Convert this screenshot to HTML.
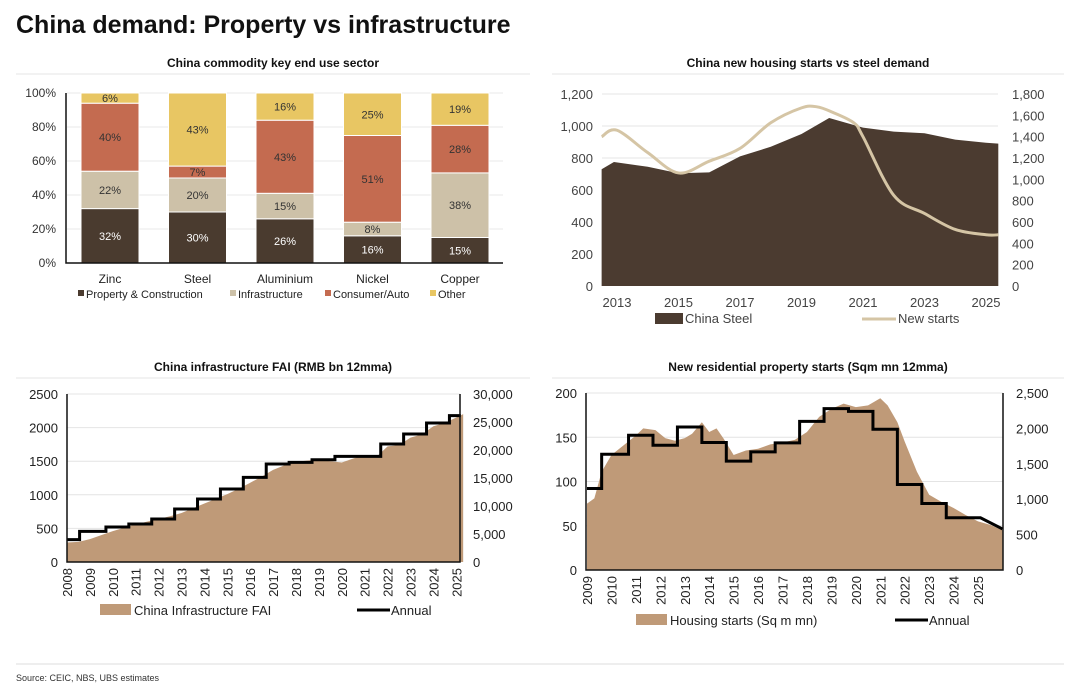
<!DOCTYPE html>
<html><head><meta charset="utf-8"><style>
body{margin:0;background:#fff;font-family:"Liberation Sans",sans-serif;}
svg text{font-family:"Liberation Sans",sans-serif;}
</style></head><body>
<svg id="s" width="1080" height="691" xmlns="http://www.w3.org/2000/svg">
<text x="16" y="33" font-size="25" font-weight="bold" fill="#111">China demand: Property vs infrastructure</text>
<text x="273" y="67" font-size="12" font-weight="bold" text-anchor="middle" fill="#111">China commodity key end use sector</text>
<text x="808" y="67" font-size="12" font-weight="bold" text-anchor="middle" fill="#111">China new housing starts vs steel demand</text>
<text x="273" y="371" font-size="12" font-weight="bold" text-anchor="middle" fill="#111">China infrastructure FAI (RMB bn 12mma)</text>
<text x="808" y="371" font-size="12" font-weight="bold" text-anchor="middle" fill="#111">New residential property starts (Sqm mn 12mma)</text>
<line x1="16" y1="74" x2="530" y2="74" stroke="#e4e4e4"/>
<line x1="552" y1="74" x2="1064" y2="74" stroke="#e4e4e4"/>
<line x1="16" y1="378" x2="530" y2="378" stroke="#e4e4e4"/>
<line x1="552" y1="378" x2="1064" y2="378" stroke="#e4e4e4"/>
<line x1="16" y1="664" x2="1064" y2="664" stroke="#ddd"/>
<text x="16" y="681" font-size="9" fill="#333">Source: CEIC, NBS, UBS estimates</text>
<g id="c1"></g><g id="c2"></g><g id="c3"></g><g id="c4"></g>
</svg>
<script>
// Chart 1
const c1Cats=["Zinc","Steel","Aluminium","Nickel","Copper"];
const c1Series=["Property & Construction","Infrastructure","Consumer/Auto","Other"];
const c1Property=[32,30,26,16,15];
const c1Infra=[22,20,15,8,38];
const c1Consumer=[40,7,43,51,28];
const c1Other=[6,43,16,25,19];
const c1Ticks=["0%","20%","40%","60%","80%","100%"];
// Chart 2
const c2Years=[2012.5,2012.9,2014,2015,2016,2017,2018,2019,2019.9,2021,2022,2023,2024,2025,2025.4];
const c2Steel=[730,775,745,705,710,810,870,950,1050,990,965,955,915,895,890];
const c2StartYears=[2012.5,2013,2014,2015,2016,2017,2018,2019,2019.5,2020,2020.7,2021,2022,2023,2024,2025,2025.4];
const c2Starts=[1400,1460,1250,1060,1170,1290,1530,1670,1680,1630,1530,1400,850,680,530,480,480];
const c2LeftTicks=["0","200","400","600","800","1,000","1,200"];
const c2RightTicks=["0","200","400","600","800","1,000","1,200","1,400","1,600","1,800"];
const c2XTicks=["2013","2015","2017","2019","2021","2023","2025"];
// Chart 3
const c3Years=[2008,2008.5,2009,2009.5,2010,2010.5,2011,2011.5,2012,2012.5,2013,2013.5,2014,2014.5,2015,2015.5,2016,2016.5,2017,2017.5,2018,2018.5,2019,2019.5,2020,2020.5,2021,2021.5,2022,2022.5,2023,2023.5,2024,2024.5,2025,2025.3];
const c3Fai=[290,300,340,400,460,510,560,600,640,680,730,800,870,940,1010,1090,1180,1270,1370,1440,1490,1510,1520,1500,1480,1540,1590,1560,1720,1740,1850,1900,2020,2070,2150,2200];
const c3StepStart=[2008,2008.55,2009.7,2010.7,2011.7,2012.7,2013.7,2014.7,2015.7,2016.7,2017.7,2018.7,2019.7,2021.7,2022.7,2023.7,2024.7];
const c3Annual=[3990,5470,6250,6790,7680,9470,11250,13040,15120,17500,17800,18270,18870,21070,22860,24820,26130];
const c3End=2025.2;
const c3LeftTicks=["0","500","1000","1500","2000","2500"];
const c3RightTicks=["0","5,000","10,000","15,000","20,000","25,000","30,000"];
const c3XTicks=["2008","2009","2010","2011","2012","2013","2014","2015","2016","2017","2018","2019","2020","2021","2022","2023","2024","2025"];
// Chart 4
const c4Years=[2009,2009.3,2009.6,2010,2010.5,2011,2011.3,2011.8,2012.2,2012.6,2013,2013.3,2013.7,2014,2014.3,2014.6,2015,2015.5,2016,2016.5,2017,2017.5,2018,2018.5,2019,2019.5,2020,2020.5,2021,2021.3,2021.7,2022,2022.5,2023,2023.5,2024,2024.5,2025,2025.5,2026];
const c4Starts=[75,81,111,130,141,152,160,158,149,146,149,154,167,156,160,148,130,135,137,142,144,147,156,173,182,188,184,186,194,186,167,145,111,85,77,70,62,55,51,45];
const c4StepStart=[2009,2009.6,2010.7,2011.7,2012.7,2013.7,2014.7,2015.7,2016.7,2017.7,2018.7,2019.7,2020.7,2021.7,2022.7,2023.7,2024.7];
const c4Annual=[1151,1635,1903,1762,2020,1800,1537,1668,1795,2100,2279,2241,1988,1208,940,738,738];
const c4StepEnd=2025.1;
const c4End=2026;
const c4EndValue=580;
const c4LeftTicks=["0","50","100","150","200"];
const c4RightTicks=["0","500","1,000","1,500","2,000","2,500"];
const c4XTicks=["2009","2010","2011","2012","2013","2014","2015","2016","2017","2018","2019","2020","2021","2022","2023","2024","2025"];

const NS="http://www.w3.org/2000/svg";
function mk(p,t,a,txt){const e=document.createElementNS(NS,t);for(const k in a)e.setAttribute(k,a[k]);if(txt!==undefined)e.textContent=txt;p.appendChild(e);return e;}
const TX="#333";

// ---- Chart 1
(function(){
const g=document.getElementById('c1');
const y=v=>263-v*(263-93)/100;
const x=i=>110+i*87.5;
c1Ticks.forEach((t,i)=>{const v=i*20;
 if(i>0){const l=mk(g,'line',{x1:67,x2:503,y1:y(v),y2:y(v),stroke:'#e8e8e8'});}
 const tx=mk(g,'text',{x:56,y:y(v)+4,'font-size':12,'text-anchor':'end',fill:TX},t);});
const cols=['#4a3b2f','#cdc1a8','#c46b50','#e8c663'];
const tcol=['#fff','#333','#333','#333'];
const ser=[c1Property,c1Infra,c1Consumer,c1Other];
c1Cats.forEach((c,i)=>{let acc=0;
 ser.forEach((s,k)=>{const v=s[i];const r=mk(g,'rect',{x:x(i)-29,y:y(acc+v),width:58,height:y(acc)-y(acc+v),fill:cols[k],stroke:'#fff','stroke-width':1});
  
  const t=mk(g,'text',{x:x(i),y:(y(acc)+y(acc+v))/2+4,'font-size':11,'text-anchor':'middle',fill:tcol[k]},v+'%');
  acc+=v;});
 const t=mk(g,'text',{x:x(i),y:283,'font-size':12,'text-anchor':'middle',fill:'#222'},c);});
const a1=mk(g,'path',{d:'M66 93V263H503',fill:'none',stroke:'#111','stroke-width':1.5});
const lx=[78,230,325,430];
c1Series.forEach((s,k)=>{const r=mk(g,'rect',{x:lx[k],y:290,width:6,height:6,fill:cols[k]});
 const t=mk(g,'text',{x:lx[k]+8,y:298,'font-size':11,fill:'#222'},s);});
})();

// ---- Chart 2
(function(){
const g=document.getElementById('c2');
const x=v=>617+(v-2013)*30.75;
const yl=v=>286-v*(286-94)/1200;
const yr=v=>286-v*(286-94)/1800;
c2LeftTicks.forEach((t,i)=>{const v=i*200;
 if(i>0){const l=mk(g,'line',{x1:602,x2:998,y1:yl(v),y2:yl(v),stroke:'#e6e6e6'});}
 const tx=mk(g,'text',{x:593,y:yl(v)+5,'font-size':13,'text-anchor':'end',fill:'#444'},t);});
c2RightTicks.forEach((t,i)=>{const tx=mk(g,'text',{x:1012,y:yr(i*200)+5,'font-size':13,fill:'#444'},t);});
let d='M'+x(c2Years[0])+' '+yl(0);c2Years.forEach((yy,i)=>d+='L'+x(yy)+' '+yl(c2Steel[i]));d+='L'+x(c2Years[c2Years.length-1])+' '+yl(0)+'Z';
const a=mk(g,'path',{d:d,fill:'#4b3b30'});
const pts=c2StartYears.map((yy,i)=>[x(yy),yr(c2Starts[i])]);
let d2='M'+pts[0][0]+' '+pts[0][1];
for(let i=0;i<pts.length-1;i++){const p0=pts[Math.max(0,i-1)],p1=pts[i],p2=pts[i+1],p3=pts[Math.min(pts.length-1,i+2)];
 d2+='C'+(p1[0]+(p2[0]-p0[0])/6)+' '+(p1[1]+(p2[1]-p0[1])/6)+' '+(p2[0]-(p3[0]-p1[0])/6)+' '+(p2[1]-(p3[1]-p1[1])/6)+' '+p2[0]+' '+p2[1];}
const l=mk(g,'path',{d:d2,fill:'none',stroke:'#d5c5a5','stroke-width':3});
c2XTicks.forEach(t=>{const tx=mk(g,'text',{x:x(+t),y:307,'font-size':13,'text-anchor':'middle',fill:'#444'},t);});
const r=mk(g,'rect',{x:655,y:313,width:28,height:11,fill:'#4b3b30'});
const t1=mk(g,'text',{x:685,y:323,'font-size':13,fill:'#444'},'China Steel');
const ll=mk(g,'line',{x1:862,x2:896,y1:319,y2:319,stroke:'#d5c5a5','stroke-width':3});
const t2=mk(g,'text',{x:898,y:323,'font-size':13,fill:'#444'},'New starts');
})();

// ---- step/area chart helper
function stepChart(gid,o){
const g=document.getElementById(gid);
const x=v=>o.x0+(v-o.y0yr)*o.pxYear;
const yl=v=>o.bot-v*(o.bot-o.top)/o.lmax;
const yr=v=>o.bot-v*(o.bot-o.top)/o.rmax;
o.lt.forEach((t,i)=>{const v=i*o.lstep;
 if(i>0){const l=mk(g,'line',{x1:o.L,x2:o.R,y1:yl(v),y2:yl(v),stroke:'#e4e4e4'});}
 const tx=mk(g,'text',{x:o.L-9,y:yl(v)+5,'font-size':13,'text-anchor':'end',fill:'#222'},t);});
o.rt.forEach((t,i)=>{const tx=mk(g,'text',{x:o.R+13,y:yr(i*o.rstep)+5,'font-size':13,fill:'#222'},t);});
let d='M'+x(o.ay[0])+' '+yl(0);o.ay.forEach((yy,i)=>d+='L'+x(yy)+' '+yl(o.av[i]));d+='L'+x(o.ay[o.ay.length-1])+' '+yl(0)+'Z';
const a=mk(g,'path',{d:d,fill:'#bf9a78'});
const stepEnd=o.stepEnd!==undefined?o.stepEnd:o.end;
let s='';o.ss.forEach((st,i)=>{const en=i<o.ss.length-1?o.ss[i+1]:stepEnd;const yv=yr(o.sv[i]);
 s+=(i===0?'M':'L')+x(st)+' '+yv+'L'+x(en)+' '+yv;});
if(o.endV!==undefined){s+='L'+x(o.end)+' '+yr(o.endV);}
const l=mk(g,'path',{d:s,fill:'none',stroke:'#000','stroke-width':3});
const ax=mk(g,'path',{d:'M'+o.L+' '+o.top+'V'+o.bot+'H'+o.R+'V'+o.top,fill:'none',stroke:'#111','stroke-width':1.5});
o.xt.forEach(t=>{const px=x(+t);const tx=mk(g,'text',{x:0,y:0,'font-size':13,'text-anchor':'end',fill:'#222',transform:'translate('+(px+5)+','+(o.bot+6)+') rotate(-90)'},t);});
const r=mk(g,'rect',{x:o.lg[0],y:o.lg[1]-6,width:31,height:11,fill:'#bf9a78'});
const t1=mk(g,'text',{x:o.lg[0]+34,y:o.lg[1]+5,'font-size':13,fill:'#222'},o.areaLabel);
const ll=mk(g,'line',{x1:o.lg[2],x2:o.lg[2]+33,y1:o.lg[1],y2:o.lg[1],stroke:'#000','stroke-width':3});
const t2=mk(g,'text',{x:o.lg[2]+34,y:o.lg[1]+5,'font-size':13,fill:'#222'},'Annual');
}
stepChart('c3',{x0:67,y0yr:2008,pxYear:22.9,L:67,R:460,top:394,bot:562,lmax:2500,rmax:30000,lstep:500,rstep:5000,
 lt:c3LeftTicks,rt:c3RightTicks,xt:c3XTicks,ay:c3Years,av:c3Fai,ss:c3StepStart,sv:c3Annual,end:c3End,
 areaName:'infrastructure-fai-area',areaLabel:'China Infrastructure FAI',lg:[100,610,357]});
stepChart('c4',{x0:587,y0yr:2009,pxYear:24.44,L:586,R:1003,top:393,bot:570,lmax:200,rmax:2500,lstep:50,rstep:500,
 lt:c4LeftTicks,rt:c4RightTicks,xt:c4XTicks,ay:c4Years,av:c4Starts,ss:c4StepStart,sv:c4Annual,stepEnd:c4StepEnd,end:c4End,endV:c4EndValue,
 areaName:'housing-starts-area',areaLabel:'Housing starts (Sq m mn)',lg:[636,620,895]});
</script>
</body></html>
